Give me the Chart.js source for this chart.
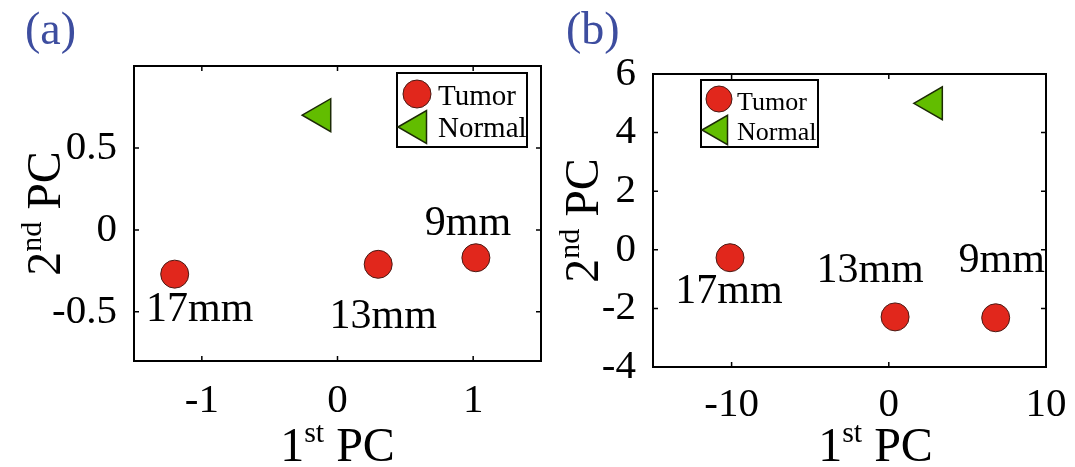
<!DOCTYPE html>
<html>
<head>
<meta charset="utf-8">
<script src="https://cdn.jsdelivr.net/npm/chart.js@4.4.1/dist/chart.umd.min.js"></script>
<style>
  html, body { margin: 0; padding: 0; background: #fff; }
  #wrap { position: relative; width: 1075px; height: 467px; overflow: hidden; }
  canvas { position: absolute; top: 0; }
  #chartA { left: 0; }
  #chartB { left: 548px; }
</style>
</head>
<body>
<div id="wrap">
  <canvas id="chartA" width="548" height="467"></canvas>
  <canvas id="chartB" width="527" height="467"></canvas>
</div>
<script>
// tumour sizes, same order in both panels
const sizeLabels = ['17mm', '13mm', '9mm'];

// panel (a)
const tumorAx = [-1.2, 0.3, 1.02];
const tumorAy = [-0.27, -0.21, -0.17];
const normalAx = [-0.12];
const normalAy = [0.7];
const xTicksA = [-1, 0, 1];
const yTicksA = [-0.5, 0, 0.5];

// panel (b)
const tumorBx = [-10.1, 0.4, 6.8];
const tumorBy = [-0.27, -2.29, -2.32];
const normalBx = [2.8];
const normalBy = [5.0];
const xTicksB = [-10, 0, 10];
const yTicksB = [-4, -2, 0, 2, 4, 6];

const SERIF = '"Liberation Serif", "Times New Roman", serif';
const RED = '#e1271c';
const GREEN = '#62bd00';

function toPoints(xs, ys) {
  return xs.map((x, i) => ({ x: x, y: ys[i] }));
}

function drawMarker(ctx, style, x, y) {
  ctx.save();
  ctx.fillStyle = style.fill;
  ctx.strokeStyle = style.stroke;
  ctx.lineWidth = style.lw;
  ctx.beginPath();
  if (style.kind === 'circle') {
    ctx.arc(x, y, style.r, 0, Math.PI * 2);
  } else {
    // left-pointing triangle around its centroid
    const r = style.r;
    ctx.moveTo(x - r, y);
    ctx.lineTo(x + r / 2, y - r * Math.sqrt(3) / 2);
    ctx.lineTo(x + r / 2, y + r * Math.sqrt(3) / 2);
    ctx.closePath();
  }
  ctx.fill();
  ctx.stroke();
  ctx.restore();
}

// text runs with superscripts, e.g. 1st PC
function drawRuns(ctx, runs, cx, baseline) {
  let total = 0;
  runs.forEach(r => {
    ctx.font = r.size + 'px ' + SERIF;
    r.w = ctx.measureText(r.t).width;
    total += r.w;
  });
  let x = cx - total / 2;
  ctx.textAlign = 'left';
  ctx.textBaseline = 'alphabetic';
  runs.forEach(r => {
    ctx.font = r.size + 'px ' + SERIF;
    ctx.fillText(r.t, x, baseline - (r.rise || 0));
    x += r.w;
  });
}

const pcaFrame = {
  id: 'pcaFrame',
  afterDraw(chart, args, opts) {
    const ctx = chart.ctx;
    const a = chart.chartArea;
    const xs = chart.scales.x, ys = chart.scales.y;
    ctx.save();

    // box with inward ticks on all four sides
    ctx.strokeStyle = '#000';
    ctx.lineWidth = 2;
    ctx.strokeRect(a.left, a.top, a.right - a.left, a.bottom - a.top);
    ctx.lineWidth = 1.5;
    ctx.beginPath();
    xs.ticks.forEach(t => {
      const px = xs.getPixelForValue(t.value);
      ctx.moveTo(px, a.bottom); ctx.lineTo(px, a.bottom - 5);
      ctx.moveTo(px, a.top); ctx.lineTo(px, a.top + 5);
    });
    ys.ticks.forEach(t => {
      const py = ys.getPixelForValue(t.value);
      ctx.moveTo(a.left, py); ctx.lineTo(a.left + 5, py);
      ctx.moveTo(a.right, py); ctx.lineTo(a.right - 5, py);
    });
    ctx.stroke();

    // tumour size next to each red marker
    ctx.fillStyle = '#000';
    ctx.font = '42px ' + SERIF;
    ctx.textAlign = 'center';
    ctx.textBaseline = 'middle';
    chart.getDatasetMeta(0).data.forEach((el, i) => {
      const off = opts.labelOffsets[i];
      ctx.fillText(sizeLabels[i], el.x + off[0], el.y + off[1]);
    });

    // legend
    const L = opts.legend;
    ctx.lineWidth = 2;
    ctx.strokeStyle = '#000';
    ctx.fillStyle = '#fff';
    ctx.fillRect(L.x, L.y, L.w, L.h);
    ctx.strokeRect(L.x, L.y, L.w, L.h);
    drawMarker(ctx, { kind: 'circle', r: L.cr, fill: RED, stroke: '#4a1a14', lw: 1 }, L.x + L.mx, L.y + L.y1);
    drawMarker(ctx, { kind: 'tri', r: L.tr, fill: GREEN, stroke: '#1c2a06', lw: 1.5 }, L.x + L.mx, L.y + L.y2);
    ctx.fillStyle = '#000';
    ctx.font = L.font + 'px ' + SERIF;
    ctx.textAlign = 'left';
    ctx.textBaseline = 'alphabetic';
    ctx.fillText('Tumor', L.x + L.tx, L.y + L.b1);
    ctx.fillText('Normal', L.x + L.tx, L.y + L.b2);

    // axis titles
    ctx.fillStyle = '#000';
    drawRuns(ctx, [
      { t: '1', size: 48 }, { t: 'st', size: 30, rise: 19 }, { t: ' PC', size: 48 }
    ], (a.left + a.right) / 2 + opts.xTitleShift, 461);
    ctx.save();
    ctx.translate(opts.yTitleX, (a.top + a.bottom) / 2);
    ctx.rotate(-Math.PI / 2);
    drawRuns(ctx, [
      { t: '2', size: 48 }, { t: 'nd', size: 30, rise: 19 }, { t: ' PC', size: 48 }
    ], 0, 0);
    ctx.restore();

    // panel tag
    ctx.fillStyle = '#3d4d9f';
    ctx.font = '46px ' + SERIF;
    ctx.textAlign = 'left';
    ctx.fillText(opts.tag, opts.tagX, 44);

    ctx.restore();
  }
};

function makePanel(id, p) {
  const tickFont = { family: SERIF, size: 41 };
  return new Chart(document.getElementById(id), {
    type: 'scatter',
    data: {
      datasets: [
        {
          label: 'Tumor',
          data: toPoints(p.tx, p.ty),
          pointStyle: 'circle',
          pointRadius: 14,
          pointHoverRadius: 14,
          backgroundColor: RED,
          borderColor: '#4a1a14',
          borderWidth: 1
        },
        {
          label: 'Normal',
          data: toPoints(p.nx, p.ny),
          pointStyle: 'triangle',
          rotation: -90,
          pointRadius: 19,
          pointHoverRadius: 19,
          backgroundColor: GREEN,
          borderColor: '#1c2a06',
          borderWidth: 1.5
        }
      ]
    },
    options: {
      responsive: false,
      animation: false,
      devicePixelRatio: 1,
      layout: { padding: p.padding, autoPadding: false },
      scales: {
        x: {
          type: 'linear',
          min: p.xmin, max: p.xmax,
          afterBuildTicks: s => { s.ticks = p.xTicks.map(v => ({ value: v })); },
          afterFit: s => { s.height = p.xAxisH; s.paddingLeft = 0; s.paddingRight = 0; },
          grid: { display: false },
          border: { display: false },
          ticks: { font: tickFont, color: '#000', padding: p.xPad, maxRotation: 0,
                   callback: v => String(v) }
        },
        y: {
          type: 'linear',
          min: p.ymin, max: p.ymax,
          afterBuildTicks: s => { s.ticks = p.yTicks.map(v => ({ value: v })); },
          afterFit: s => { s.width = p.yAxisW; s.paddingTop = 0; s.paddingBottom = 0; },
          grid: { display: false },
          border: { display: false },
          ticks: { font: tickFont, color: '#000', padding: 9,
                   callback: v => String(v) }
        }
      },
      plugins: {
        legend: { display: false },
        tooltip: { enabled: false },
        pcaFrame: p.frame
      }
    },
    plugins: [pcaFrame]
  });
}

makePanel('chartA', {
  tx: tumorAx, ty: tumorAy, nx: normalAx, ny: normalAy,
  xTicks: xTicksA, yTicks: yTicksA,
  xmin: -1.5, xmax: 1.5, ymin: -0.8, ymax: 1.0,
  padding: { top: 66, right: 7, bottom: 0, left: 0 },
  xAxisH: 106, yAxisW: 134, xPad: 8,
  frame: {
    tag: '(a)', tagX: 25, yTitleX: 60, xTitleShift: 0,
    legend: { x: 397, y: 73, w: 130, h: 74, mx: 20, y1: 21, y2: 54, cr: 14, tr: 19,
              tx: 41, b1: 32, b2: 64, font: 29 },
    labelOffsets: [[25, 36], [5, 53], [-8, -34]]
  }
});

makePanel('chartB', {
  tx: tumorBx, ty: tumorBy, nx: normalBx, ny: normalBy,
  xTicks: xTicksB, yTicks: yTicksB,
  xmin: -15, xmax: 10, ymin: -4, ymax: 6,
  padding: { top: 74, right: 29, bottom: 0, left: 0 },
  xAxisH: 100, yAxisW: 105, xPad: 6,
  frame: {
    tag: '(b)', tagX: 18, yTitleX: 50, xTitleShift: 26,
    legend: { x: 153, y: 80, w: 117, h: 67, mx: 18, y1: 19, y2: 50, cr: 13, tr: 17,
              tx: 36, b1: 30, b2: 60, font: 26 },
    labelOffsets: [[-1, 34], [-25, -46], [6, -57]]
  }
});
</script>
</body>
</html>
